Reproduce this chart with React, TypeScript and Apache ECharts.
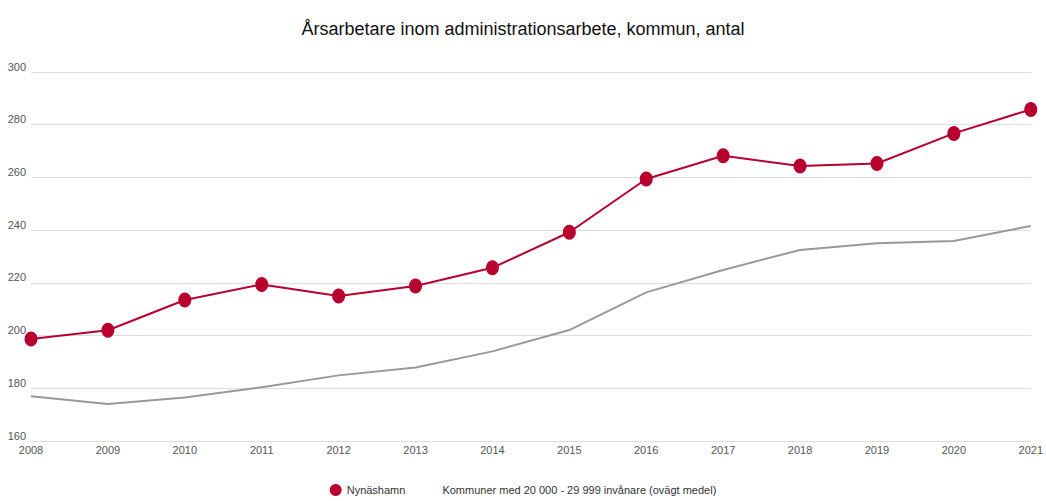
import React, { useEffect, useRef } from "react";
import * as echarts from "echarts";

const years = ["2008", "2009", "2010", "2011", "2012", "2013", "2014", "2015", "2016", "2017", "2018", "2019", "2020", "2021"];
const nynashamn = [198.7, 202.0, 213.5, 219.4, 215.0, 218.8, 225.7, 239.2, 259.4, 268.2, 264.3, 265.3, 276.7, 285.8];
const kommuner = [177.0, 174.0, 176.5, 180.4, 184.9, 187.9, 194.0, 202.1, 216.4, 224.9, 232.5, 235.0, 235.9, 241.6];
const seriesNames = ["Nynäshamn", "Kommuner med 20 000 - 29 999 invånare (ovägt medel)"];
const titleText = "Årsarbetare inom administrationsarbete, kommun, antal";

const FONT = "'Liberation Sans Narrow', 'Arial Narrow', 'Liberation Sans', Arial, sans-serif";

export default function App() {
  const ref = useRef<HTMLDivElement>(null);
  useEffect(() => {
    if (!ref.current) return;
    const chart = echarts.init(ref.current, null, { renderer: "svg" });
    chart.setOption({
      animation: false,
      backgroundColor: "#ffffff",
      textStyle: { fontFamily: FONT },
      title: {
        text: titleText,
        left: "center",
        top: 15,
        textStyle: { fontFamily: FONT, fontSize: 18, fontWeight: "normal", color: "#111" },
      },
      legend: {
        bottom: 0,
        left: "center",
        itemWidth: 12,
        itemHeight: 12,
        itemGap: 20,
        textStyle: { fontFamily: FONT, fontSize: 11, color: "#333" },
        data: [
          { name: seriesNames[0], icon: "circle" },
          { name: seriesNames[1], icon: "none" },
        ],
      },
      grid: { left: 31, right: 15, top: 72, bottom: 60, containLabel: false },
      xAxis: {
        type: "category",
        data: years,
        boundaryGap: false,
        axisLine: { show: true, lineStyle: { color: "#dddddd" } },
        axisTick: { show: false },
        axisLabel: { fontFamily: FONT, fontSize: 11, color: "#555", margin: 3 },
        splitLine: { show: false },
      },
      yAxis: {
        type: "value",
        min: 160,
        max: 300,
        interval: 20,
        axisLine: { show: false },
        axisTick: { show: false },
        axisLabel: { fontFamily: FONT, fontSize: 11, color: "#555", margin: 5, verticalAlign: "bottom" },
        splitLine: { lineStyle: { color: "#dddddd", width: 1 } },
      },
      series: [
        {
          name: seriesNames[0],
          type: "line",
          data: nynashamn,
          symbol: "circle",
          symbolSize: [13, 15],
          itemStyle: { color: "#b8002e" },
          lineStyle: { color: "#b8002e", width: 2 },
          z: 3,
        },
        {
          name: seriesNames[1],
          type: "line",
          data: kommuner,
          symbol: "none",
          itemStyle: { color: "#999999" },
          lineStyle: { color: "#999999", width: 2 },
          z: 2,
        },
      ],
    });
    return () => chart.dispose();
  }, []);
  return <div ref={ref} style={{ width: 1046, height: 501, position: "absolute", left: 0, top: 0 }} />;
}
